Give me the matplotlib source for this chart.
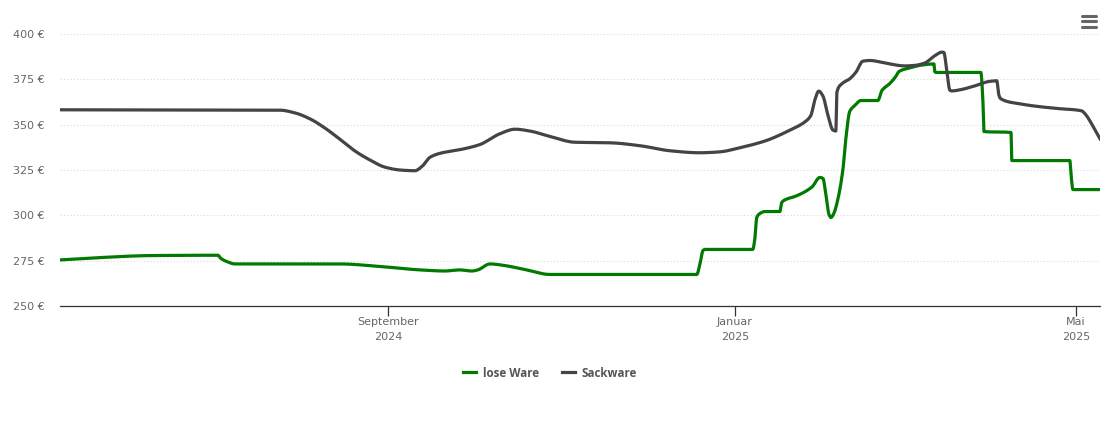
import numpy as np
import matplotlib
matplotlib.use("Agg")
import matplotlib.pyplot as plt
from matplotlib.lines import Line2D

# x values: days since 2024-09-01
lose_days = [-115.3,-101.3,-83.7,-59.8,-58.7,-56.3,-53.8,-16.9,-2.8,11.3,20,25.3,29.5,31.6,35.9,41.1,48.2,57,
             108.6,109.7,110.8,111.5,128.3,129,129.7,130.8,132.6,137.8,138.5,140.3,143.1,149.1,151.9,153,154,
             155.1,155.8,156.8,158.2,160,161,162.4,164.2,166.3,172.3,173.7,176.5,178.6,179.7,183.5,187.8,192,
             192.3,192.7,208.5,209.2,209.6,219.1,219.4,239.8,240.2,240.9,250.4]
lose_vals = [275.4,276.7,277.8,278,276.2,274.3,273.2,273.2,271.8,269.9,269.3,269.9,269.3,269.9,273.2,272.3,270.1,267.4,
             267.4,272.9,280.6,281.2,281.2,286.7,298.8,301,302.1,302.1,307.1,309,310.4,315.6,320.9,320.3,311.5,
             300.5,298.8,301,308.7,325.3,341.8,357.3,360.6,363.3,363.3,368.8,372.7,376.6,379.3,381.3,382.9,383.5,
             379.3,378.8,378.8,363.9,346.2,345.7,330.2,330.2,322.5,314.2,314.2]

sack_days = [-115.3,-38,-32.7,-27.4,-22.2,-16.9,-11.6,-6.3,-1.1,4.2,9.5,12,14.8,18.3,25.3,32.3,39.4,44.7,49.9,57,65.8,
             78.1,88.6,99.2,109.7,116.7,123.8,132.6,141.4,146.6,148.7,150.1,151.5,153,154.7,156.5,157.5,157.9,159.6,
             162.4,164.6,167,169.5,174.8,181.8,185.3,188.8,192.3,194.8,195.5,196.5,197.6,198.3,201.1,206.4,211.7,
             214.1,214.8,215.5,222.2,229.3,236.3,244,244.6,250.4]
sack_vals = [358.2,358,356.5,353.2,348.2,342,335.5,330.5,326.6,325,324.6,327,332,334.2,336.2,339,345,347.5,346.5,343.5,340.3,
             340,338.4,335.6,334.5,335,337.3,341,347,351.5,355,363.5,368.5,365.7,355.4,347,346.5,368,372.5,
             375.3,379,385,385.4,384,382.4,382.7,384,388,390,389.8,380,369,368.6,369.2,371.4,373.9,
             374.2,366.5,364.3,361.5,359.9,358.8,357.6,356.9,342.2]

y_ticks = [250,275,300,325,350,375,400]
x_ticks = [0,122,242]
x_labels = ["September\n2024","Januar\n2025","Mai\n2025"]

def smooth(x, y, n=10):
    """Monotone cubic rendering of the read points (spline look of the original line)."""
    x, y = np.asarray(x, float), np.asarray(y, float)
    h = np.diff(x); d = np.diff(y) / h
    m = np.zeros_like(y)
    m[0], m[-1] = d[0], d[-1]
    for i in range(1, len(x) - 1):
        if d[i-1] * d[i] > 0:
            w1, w2 = 2*h[i] + h[i-1], h[i] + 2*h[i-1]
            m[i] = (w1 + w2) / (w1 / d[i-1] + w2 / d[i])
    xs, ys = [], []
    for i in range(len(h)):
        t = np.linspace(0, 1, n, endpoint=False)
        xs.append(x[i] + t*h[i])
        ys.append((2*t**3-3*t**2+1)*y[i] + (t**3-2*t**2+t)*h[i]*m[i]
                  + (-2*t**3+3*t**2)*y[i+1] + (t**3-t**2)*h[i]*m[i+1])
    return np.r_[np.concatenate(xs), x[-1]], np.r_[np.concatenate(ys), y[-1]]

W,H = 1110,423
plt.rcParams['font.family'] = ['DejaVu Sans']
fig = plt.figure(figsize=(W/100,H/100),dpi=100)
ax = fig.add_axes([60/W,1-306/H,1040/W,272/H])
ax.set_xlim(-115.3,250.4)
ax.set_ylim(250,400)
for s in ['top','right','left']:
    ax.spines[s].set_visible(False)
ax.spines['bottom'].set_color('#333333')
ax.spines['bottom'].set_linewidth(0.9)
ax.set_yticks(y_ticks)
ax.set_yticklabels([f"{v} €" for v in y_ticks],color='#666666',fontsize=8)
ax.tick_params(axis='y',length=0,pad=11)
ax.set_xticks(x_ticks)
ax.set_xticklabels(x_labels,color='#666666',fontsize=8,linespacing=1.6)
ax.tick_params(axis='x',length=7,width=0.9,color='#333333',pad=1)
ax.grid(axis='y',color='#d8d8d8',linewidth=0.8,linestyle=(0,(1,2)))
ax.set_axisbelow(True)
l1, = ax.plot(*smooth(lose_days,lose_vals),color='#007a00',lw=2.3,solid_joinstyle='round',label='lose Ware')
l2, = ax.plot(*smooth(sack_days,sack_vals),color='#434348',lw=2.3,solid_joinstyle='round',label='Sackware')
fig.legend(handles=[l1,l2],loc='center',bbox_to_anchor=(550/W,1-373/H),ncol=2,frameon=False,
           prop={'family':'Open Sans','size':8.4,'weight':'bold'},handlelength=1.1,handletextpad=0.6,
           columnspacing=2.0,labelcolor='#555555')
# menu icon
for yy in (16,21.3,26.6):
    fig.add_artist(Line2D([1082/W,1096/W],[1-yy/H]*2,color='#666666',lw=2.2,solid_capstyle='round'))
fig.savefig('out.png',dpi=100)
